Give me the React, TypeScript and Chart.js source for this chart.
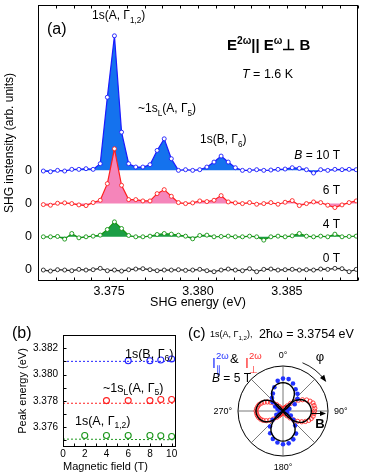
import React, { useEffect, useRef } from 'react';
import { Chart, registerables } from 'chart.js';

Chart.register(...registerables);

const FONT = '"Liberation Sans", Arial, Helvetica, sans-serif';
Chart.defaults.font.family = FONT;
Chart.defaults.color = '#000';

// ---------------- (a) SHG spectra ----------------
const energies = [3.3713, 3.3717, 3.3721, 3.3725, 3.3729, 3.3733, 3.3737, 3.3741, 3.3745, 3.3749, 3.3753, 3.3757, 3.3761, 3.3765, 3.3769, 3.3773, 3.3777, 3.3781, 3.3785, 3.3789, 3.3793, 3.3797, 3.3801, 3.3805, 3.3809, 3.3813, 3.3817, 3.3821, 3.3825, 3.3829, 3.3833, 3.3837, 3.3841, 3.3845, 3.3849, 3.3853, 3.3857, 3.3861, 3.3865, 3.3869, 3.3873, 3.3877, 3.3881, 3.3885, 3.3889];
const energyTicks = [3.371, 3.372, 3.373, 3.374, 3.375, 3.376, 3.377, 3.378, 3.379, 3.38, 3.381, 3.382, 3.383, 3.384, 3.385, 3.386, 3.387, 3.388, 3.389];
const energyTickLabels = [3.375, 3.38, 3.385];
const spectrumOffsets = [0, 1, 2, 3];
const fieldNames = ['0 T', '4 T', '6 T', '10 T'];
const shg0T = [0, -0.03, 0.01, 0, -0.02, 0.02, 0, 0.01, 0.05, -0.02, 0, -0.03, 0.01, 0.03, 0.04, 0.01, -0.02, 0, 0, 0.01, -0.01, 0, 0.02, -0.02, -0.05, 0, 0.03, 0, -0.02, 0.04, -0.05, 0.02, 0.03, 0, 0.01, 0.02, 0, 0.01, 0, 0.03, 0.02, 0.05, 0.04, -0.05, 0.02];
const shg4T = [0, 0, 0.01, -0.07, 0.1, -0.03, 0, 0.02, 0.05, 0.22, 0.45, 0.25, 0.04, 0, 0, 0.02, 0.07, 0.1, 0.08, 0.05, 0.02, -0.06, 0.04, 0.05, 0, 0.01, 0.02, 0, 0, 0.02, 0, -0.1, 0, 0.02, 0, 0.03, 0.1, 0.02, 0, 0.02, 0, 0.08, 0, 0.01, 0.02];
const shg6T = [-0.03, -0.05, 0.01, 0.02, 0, -0.04, -0.06, 0.03, 0.1, 0.6, 1.65, 0.55, 0.12, 0.12, 0.08, 0.08, 0.3, 0.42, 0.22, 0.03, 0, 0.02, 0.08, 0.06, 0.1, 0.24, 0.05, 0.02, 0, 0.03, -0.02, 0, 0.03, -0.02, 0.04, 0.09, -0.06, 0, 0.05, 0.03, -0.05, -0.12, -0.04, 0.03, 0.08];
const shg10T = [-0.02, -0.04, 0, -0.02, 0.03, 0.03, 0.05, 0.03, 0.2, 2.2, 4.05, 1.15, 0.2, 0.1, 0.1, 0.17, 0.6, 0.95, 0.35, 0, 0.02, 0, 0.02, 0.1, 0.25, 0.43, 0.25, 0.08, 0, 0, 0.02, 0, 0.01, 0.03, 0.04, 0.08, 0.06, 0.02, -0.08, 0.02, 0, 0.03, 0.02, 0.03, 0.02];

// ---------------- (b) peak energies ----------------
const fieldA = [2, 4, 6, 8, 9, 10];
const peakA = [3.37537, 3.37537, 3.37537, 3.37537, 3.37535, 3.3753];
const fieldL = [4, 6, 8, 9, 10];
const peakL = [3.37802, 3.37802, 3.37802, 3.3781, 3.3781];
const fieldB = [6, 8, 9, 10];
const peakB = [3.38105, 3.38105, 3.3811, 3.38118];
const guideField = [0, 10.4];
const guideA = [3.3751, 3.37505];
const guideL = [3.37782, 3.37782];
const guideB = [3.381, 3.381];
const fieldTicks = [0, 1, 2, 3, 4, 5, 6, 7, 8, 9, 10];
const fieldTickLabels = [0, 2, 4, 6, 8, 10];
const peakTicks = [3.375, 3.376, 3.377, 3.378, 3.379, 3.38, 3.381, 3.382, 3.383];
const peakTickLabels = [3.376, 3.378, 3.38, 3.382];

// ---------------- (c) polar plot ----------------
const polarAngles = Array.from({ length: 72 }, (_, i) => i * 5);
const polarAxisLabels = ['0°', '90°', '180°', '270°'];
const fitPar = [0.63, 0.627, 0.615, 0.598, 0.572, 0.54, 0.5, 0.44, 0.365, 0.28, 0.19, 0.11, 0.045, 0, 0, 0, 0, 0, 0, 0, 0, 0, 0, 0, 0.048, 0.117, 0.202, 0.298, 0.388, 0.468, 0.532, 0.574, 0.608, 0.636, 0.654, 0.667, 0.67, 0.667, 0.654, 0.636, 0.608, 0.574, 0.532, 0.468, 0.388, 0.298, 0.202, 0.117, 0.048, 0, 0, 0, 0, 0, 0, 0, 0, 0, 0, 0, 0.045, 0.11, 0.19, 0.28, 0.365, 0.44, 0.5, 0.54, 0.572, 0.598, 0.615, 0.627];
const fitPerp = [0, 0, 0, 0, 0, 0, 0.045, 0.11, 0.19, 0.28, 0.365, 0.44, 0.5, 0.54, 0.572, 0.598, 0.615, 0.627, 0.63, 0.627, 0.615, 0.598, 0.572, 0.54, 0.5, 0.44, 0.365, 0.28, 0.19, 0.11, 0.045, 0, 0, 0, 0, 0, 0, 0, 0, 0, 0, 0, 0.043, 0.105, 0.181, 0.267, 0.347, 0.419, 0.476, 0.514, 0.545, 0.569, 0.585, 0.597, 0.6, 0.597, 0.585, 0.569, 0.545, 0.514, 0.476, 0.419, 0.347, 0.267, 0.181, 0.105, 0.043, 0, 0, 0, 0, 0];
const dataPar = [0.72, null, 0.72, null, 0.65, null, 0.56, null, 0.5, null, 0.42, null, 0.3, null, 0.15, null, 0.08, null, null, null, 0.06, null, 0.1, null, 0.2, null, 0.3, null, 0.42, null, 0.58, null, 0.67, null, 0.73, null, 0.74, null, 0.71, null, 0.66, null, 0.57, null, 0.45, null, 0.3, null, 0.17, null, 0.08, null, null, null, 0.04, null, 0.07, null, 0.13, null, 0.2, null, 0.3, null, 0.38, null, 0.45, null, 0.56, null, 0.68, null];
const dataPerp = [null, null, null, null, null, 0.06, 0.08, 0.1, 0.15, 0.24, 0.33, 0.42, 0.5, 0.58, 0.64, 0.69, 0.7, 0.71, 0.7, 0.69, 0.68, 0.65, 0.61, 0.55, 0.48, 0.4, 0.31, 0.22, 0.14, 0.08, 0.05, null, null, null, null, null, null, null, null, null, null, 0.05, 0.07, 0.1, 0.14, 0.2, 0.28, 0.36, 0.43, 0.49, 0.53, 0.56, 0.58, 0.59, 0.6, 0.59, 0.57, 0.55, 0.51, 0.46, 0.4, 0.34, 0.27, 0.2, 0.13, 0.08, 0.05, null, null, null, null, null];

// ---------------- rich text helper ----------------
type Seg = { t: string; m?: 'sub' | 'sup' | 'supk'; b?: boolean; it?: boolean; c?: string; dy?: number };
type Note = { x: number; y: number; size: number; segs: Seg[]; align?: 'left' | 'center' | 'right'; color?: string; bold?: boolean };

function fontStr(size: number, bold?: boolean, it?: boolean) {
  return `${it ? 'italic ' : ''}${bold ? 'bold ' : ''}${size}px ${FONT}`;
}

function drawNote(ctx: CanvasRenderingContext2D, n: Note) {
  const items = n.segs.map((sg) => {
    const sz = n.size * (sg.m ? 0.68 : 1);
    const f = fontStr(sz, sg.b ?? n.bold, sg.it);
    ctx.font = f;
    return { sg, f, w: ctx.measureText(sg.t).width };
  });
  let total = 0;
  let keep = 0;
  for (const it of items) {
    if (it.sg.m === 'supk') keep = it.w;
    else { total += Math.max(it.w, keep); keep = 0; }
  }
  let x = n.align === 'center' ? n.x - total / 2 : n.align === 'right' ? n.x - total : n.x;
  const base = n.y + n.size * 0.36;
  ctx.textBaseline = 'alphabetic';
  ctx.textAlign = 'left';
  keep = 0;
  for (const it of items) {
    ctx.font = it.f;
    ctx.fillStyle = it.sg.c ?? n.color ?? '#000';
    let dy = 0;
    if (it.sg.m === 'sub') dy = n.size * 0.3;
    else if (it.sg.m === 'sup' || it.sg.m === 'supk') dy = -n.size * 0.42;
    if (it.sg.dy !== undefined) dy = it.sg.dy;
    ctx.fillText(it.sg.t, x, base + dy);
    if (it.sg.m === 'supk') keep = it.w;
    else { x += Math.max(it.w, keep); keep = 0; }
  }
}

function notesPlugin(id: string, notes: Note[], extra?: (c: any) => void) {
  return {
    id,
    afterDraw(chart: any) {
      const ctx = chart.ctx;
      ctx.save();
      notes.forEach((n) => drawNote(ctx, n));
      if (extra) extra(chart);
      ctx.restore();
    },
  };
}

function framePlugin(id: string, opts: { xBottom: boolean; xTop: boolean; yLeft: boolean; len: number }) {
  return {
    id,
    afterDraw(chart: any) {
      const { ctx, chartArea: a, scales } = chart;
      ctx.save();
      ctx.strokeStyle = '#000';
      ctx.lineWidth = 1;
      const l = Math.round(a.left) + 0.5, t = Math.round(a.top) + 0.5;
      const r = Math.round(a.right) - 0.5, b = Math.round(a.bottom) - 0.5;
      ctx.strokeRect(l, t, r - l, b - t);
      ctx.beginPath();
      for (const tk of scales.x.ticks) {
        const px = Math.round(scales.x.getPixelForValue(tk.value)) + 0.5;
        if (opts.xBottom) { ctx.moveTo(px, b); ctx.lineTo(px, b - opts.len); }
        if (opts.xTop) { ctx.moveTo(px, t); ctx.lineTo(px, t + opts.len); }
      }
      if (opts.yLeft) {
        for (const tk of scales.y.ticks) {
          const py = Math.round(scales.y.getPixelForValue(tk.value)) + 0.5;
          ctx.moveTo(l, py); ctx.lineTo(l + opts.len, py);
        }
      }
      ctx.stroke();
      ctx.restore();
    },
  };
}

const near = (list: number[], v: number) => list.some((t) => Math.abs(t - v) < 1e-7);
const fixBox = (w: number | null, h: number | null) => (s: any) => {
  if (w !== null) s.width = w;
  if (h !== null) s.height = h;
  s.paddingTop = 0; s.paddingBottom = 0; s.paddingLeft = 0; s.paddingRight = 0;
};

export default function App() {
  const aRef = useRef<HTMLCanvasElement>(null);
  const bRef = useRef<HTMLCanvasElement>(null);
  const cRef = useRef<HTMLCanvasElement>(null);

  useEffect(() => {
    const charts: Chart[] = [];

    // ---------- panel (a) ----------
    const seriesA = [
      { vals: shg0T, off: spectrumOffsets[0], line: '#222222', fill: '', name: fieldNames[0] },
      { vals: shg4T, off: spectrumOffsets[1], line: '#139413', fill: '#1b9e45', name: fieldNames[1] },
      { vals: shg6T, off: spectrumOffsets[2], line: '#ff1f1f', fill: '#f585ba', name: fieldNames[2] },
      { vals: shg10T, off: spectrumOffsets[3], line: '#1a1aff', fill: '#1472ee', name: fieldNames[3] },
    ];
    const notesA: Note[] = [
      { x: 47, y: 28, size: 16, segs: [{ t: '(a)' }] },
      { x: 92, y: 15, size: 12, segs: [{ t: '1s(A, Γ' }, { t: '1,2', m: 'sub' }, { t: ')' }] },
      { x: 138, y: 108, size: 12, segs: [{ t: '~1s' }, { t: 'L', m: 'sub' }, { t: '(A, Γ' }, { t: '5', m: 'sub' }, { t: ')' }] },
      { x: 200, y: 139, size: 12, segs: [{ t: '1s(B, Γ' }, { t: '6', m: 'sub' }, { t: ')' }] },
      { x: 227, y: 45, size: 15, bold: true, segs: [{ t: 'E' }, { t: '2ω', m: 'sup' }, { t: '|| E' }, { t: 'ω', m: 'sup' }, { t: '⊥ B' }] },
      { x: 242, y: 73, size: 12.5, segs: [{ t: 'T', it: true }, { t: ' = 1.6 K' }] },
      { x: 340, y: 155, size: 12, align: 'right', segs: [{ t: 'B', it: true }, { t: ' = 10 T' }] },
      { x: 340, y: 190, size: 12, align: 'right', segs: [{ t: '6 T' }] },
      { x: 340, y: 224, size: 12, align: 'right', segs: [{ t: '4 T' }] },
      { x: 340, y: 258, size: 12, align: 'right', segs: [{ t: '0 T' }] },
    ];
    if (aRef.current) {
      charts.push(new Chart(aRef.current, {
        type: 'line',
        data: {
          datasets: seriesA.map((s) => ({
            label: s.name,
            data: energies.map((e, i) => ({ x: e, y: s.off + s.vals[i] })),
            borderColor: s.line,
            borderWidth: 1.2,
            backgroundColor: s.fill || 'rgba(0,0,0,0)',
            fill: s.fill ? { value: s.off } : false,
            pointRadius: 2,
            pointBorderWidth: 0.9,
            pointBackgroundColor: '#ffffff',
            pointBorderColor: s.line,
            tension: 0,
          })),
        },
        options: {
          responsive: false,
          animation: false,
          devicePixelRatio: 1,
          events: [],
          layout: { padding: { top: 2, right: 16, left: 0, bottom: 0 } },
          plugins: { legend: { display: false }, tooltip: { enabled: false } },
          scales: {
            x: {
              type: 'linear', min: 3.371, max: 3.389,
              afterBuildTicks: (s: any) => { s.ticks = energyTicks.map((v) => ({ value: v })); },
              afterFit: fixBox(null, 29),
              ticks: { autoSkip: false, maxRotation: 0, padding: 3.5, font: { size: 12.5 }, color: '#000',
                callback: (v: any) => (near(energyTickLabels, Number(v)) ? Number(v).toFixed(3) : '') },
              grid: { display: false, drawTicks: false },
              border: { display: false },
              title: { display: true, text: 'SHG energy (eV)', font: { size: 12.5 }, color: '#000', padding: { top: 0, bottom: 0 } },
            },
            y: {
              type: 'linear', min: -0.33, max: 7.98,
              afterBuildTicks: (s: any) => { s.ticks = spectrumOffsets.map((v) => ({ value: v })); },
              afterFit: fixBox(38, null),
              ticks: { padding: 6, font: { size: 12.5 }, color: '#000', callback: () => '0' },
              grid: { display: false, drawTicks: false },
              border: { display: false },
              title: { display: true, text: 'SHG instensity (arb. units)', font: { size: 12 }, color: '#000', padding: { top: 2.3, bottom: 0 } },
            },
          },
        } as any,
        plugins: [framePlugin('frameA', { xBottom: true, xTop: true, yLeft: false, len: 3 }), notesPlugin('notesA', notesA)],
      }));
    }

    // ---------- panel (b) ----------
    const green = '#1a961a', red = '#ff2020', blue = '#2424ff';
    const dots = (xs: number[], ys: number[], c: string) => ({
      data: xs.map((x, i) => ({ x, y: ys[i] })),
      showLine: false, pointRadius: 3, pointBorderWidth: 1.1,
      pointBorderColor: c, pointBackgroundColor: 'rgba(0,0,0,0)', borderColor: c,
    });
    const guide = (ys: number[], c: string) => ({
      data: guideField.map((x, i) => ({ x, y: ys[i] })),
      showLine: true, pointRadius: 0, borderWidth: 1, borderDash: [2, 2], borderColor: c,
    });
    const notesB: Note[] = [
      { x: 12, y: 22, size: 16, segs: [{ t: '(b)' }] },
      { x: 125, y: 43, size: 12.5, segs: [{ t: '1s(B, Γ' }, { t: '6', m: 'sub' }, { t: ')' }] },
      { x: 103, y: 77, size: 12.5, segs: [{ t: '~1s' }, { t: 'L', m: 'sub' }, { t: '(A, Γ' }, { t: '5', m: 'sub' }, { t: ')' }] },
      { x: 75, y: 110, size: 12.5, segs: [{ t: '1s(A, Γ' }, { t: '1,2', m: 'sub' }, { t: ')' }] },
    ];
    if (bRef.current) {
      charts.push(new Chart(bRef.current, {
        type: 'scatter',
        data: {
          datasets: [
            dots(fieldA, peakA, green), dots(fieldL, peakL, red), dots(fieldB, peakB, blue),
            guide(guideA, green), guide(guideL, red), guide(guideB, blue),
          ] as any,
        },
        options: {
          responsive: false,
          animation: false,
          devicePixelRatio: 1,
          events: [],
          layout: { padding: { top: 25, right: 14, left: 0, bottom: 0 } },
          plugins: { legend: { display: false }, tooltip: { enabled: false } },
          scales: {
            x: {
              type: 'linear', min: 0, max: 10.4,
              afterBuildTicks: (s: any) => { s.ticks = fieldTicks.map((v) => ({ value: v })); },
              afterFit: fixBox(null, 29),
              ticks: { autoSkip: false, maxRotation: 0, padding: 1, font: { size: 10 }, color: '#000',
                callback: (v: any) => (near(fieldTickLabels, Number(v)) ? String(v) : '') },
              grid: { display: false, drawTicks: false },
              border: { display: false },
              title: { display: true, text: 'Magnetic field (T)', align: 'start', font: { size: 11 }, color: '#000', padding: { top: 0, bottom: 2.7 } },
            },
            y: {
              type: 'linear', min: 3.3745, max: 3.383,
              afterBuildTicks: (s: any) => { s.ticks = peakTicks.map((v) => ({ value: v })); },
              afterFit: fixBox(63, null),
              ticks: { autoSkip: false, padding: 5, font: { size: 10 }, color: '#000',
                callback: (v: any) => (near(peakTickLabels, Number(v)) ? Number(v).toFixed(3) : '') },
              grid: { display: false, drawTicks: false },
              border: { display: false },
              title: { display: true, text: 'Peak energy (eV)', font: { size: 11 }, color: '#000', padding: { top: 16.4, bottom: 0 } },
            },
          },
        } as any,
        plugins: [framePlugin('frameB', { xBottom: true, xTop: false, yLeft: true, len: 3 }), notesPlugin('notesB', notesB)],
      }));
    }

    // ---------- panel (c) ----------
    const blueC = '#2233ff', redC = '#ff2a2a';
    const notesC: Note[] = [
      { x: 3, y: 23, size: 15, segs: [{ t: '(c)' }] },
      { x: 25, y: 24, size: 9, segs: [{ t: '1s(A, Γ' }, { t: '1,2', m: 'sub' }, { t: '),' }] },
      { x: 74, y: 23, size: 12.5, segs: [{ t: '2ħω = 3.3754 eV' }] },
      { x: 27, y: 53, size: 14, color: blueC, segs: [{ t: 'I' }, { t: '2ω', m: 'supk', dy: -9 }, { t: '∥', m: 'sub', dy: 5 }] },
      { x: 45, y: 48, size: 13, segs: [{ t: '&' }] },
      { x: 60, y: 53, size: 14, color: redC, segs: [{ t: 'I' }, { t: '2ω', m: 'supk', dy: -9 }, { t: '⊥', m: 'sub', dy: 5 }] },
      { x: 27, y: 68, size: 12, segs: [{ t: 'B', it: true }, { t: ' = 5 T' }] },
    ];
    const extraC = (chart: any) => {
      const sc = chart.scales.r;
      const xc = sc.xCenter, yc = sc.yCenter, R = sc.drawingArea;
      const ctx = chart.ctx as CanvasRenderingContext2D;
      drawNote(ctx, { x: xc, y: yc - R - 11, size: 9, align: 'center', segs: [{ t: polarAxisLabels[0] }] });
      drawNote(ctx, { x: xc + R + 6, y: yc, size: 9, align: 'left', segs: [{ t: polarAxisLabels[1] }] });
      drawNote(ctx, { x: xc, y: yc + R + 11, size: 9, align: 'center', segs: [{ t: polarAxisLabels[2] }] });
      drawNote(ctx, { x: xc - R - 6, y: yc, size: 9, align: 'right', segs: [{ t: polarAxisLabels[3] }] });
      // phi arrow
      const rr = R + 7;
      const a0 = (-90 + 22) * Math.PI / 180, a1 = (-90 + 54) * Math.PI / 180;
      ctx.strokeStyle = '#000'; ctx.fillStyle = '#000'; ctx.lineWidth = 0.9;
      ctx.beginPath(); ctx.arc(xc, yc, rr, a0, a1); ctx.stroke();
      const px = xc + rr * Math.cos(a1), py = yc + rr * Math.sin(a1);
      const dx = -Math.sin(a1), dy = Math.cos(a1);
      const nx = Math.cos(a1), ny = Math.sin(a1);
      ctx.beginPath();
      ctx.moveTo(px + dx * 2, py + dy * 2);
      ctx.lineTo(px - dx * 5 + nx * 2.6, py - dy * 5 + ny * 2.6);
      ctx.lineTo(px - dx * 5 - nx * 2.6, py - dy * 5 - ny * 2.6);
      ctx.closePath(); ctx.fill();
      drawNote(ctx, { x: xc + 37, y: yc - 55, size: 13, align: 'center', segs: [{ t: 'φ' }] });
      // B arrow
      ctx.lineWidth = 1;
      ctx.beginPath(); ctx.moveTo(xc + 28, yc + 2.5); ctx.lineTo(xc + 39, yc + 2.5); ctx.stroke();
      ctx.beginPath(); ctx.moveTo(xc + 43, yc + 2.5); ctx.lineTo(xc + 37, yc); ctx.lineTo(xc + 37, yc + 5); ctx.closePath(); ctx.fill();
      drawNote(ctx, { x: xc + 37, y: yc + 12, size: 13, bold: true, align: 'center', segs: [{ t: 'B' }] });
    };
    if (cRef.current) {
      charts.push(new Chart(cRef.current, {
        type: 'radar',
        data: {
          labels: polarAngles.map((a) => String(a)),
          datasets: [
            { data: fitPar, borderColor: '#000', borderWidth: 1.4, pointRadius: 0, fill: false, tension: 0 },
            { data: fitPerp, borderColor: '#000', borderWidth: 1.4, pointRadius: 0, fill: false, tension: 0 },
            { data: dataPar, showLine: false, borderWidth: 0, borderColor: 'rgba(0,0,0,0)', fill: false,
              pointRadius: 2.3, pointBorderWidth: 0, pointBackgroundColor: blueC, pointBorderColor: blueC },
            { data: dataPerp, showLine: false, borderWidth: 0, borderColor: 'rgba(0,0,0,0)', fill: false,
              pointRadius: 2.1, pointBorderWidth: 0.9, pointBackgroundColor: 'rgba(255,255,255,0)', pointBorderColor: redC },
          ] as any,
        },
        options: {
          responsive: false,
          animation: false,
          devicePixelRatio: 1,
          events: [],
          layout: { padding: { top: 56, right: 45.5, left: 53.5, bottom: 20 } },
          plugins: { legend: { display: false }, tooltip: { enabled: false } },
          scales: {
            r: {
              min: 0, max: 1,
              ticks: { display: false, stepSize: 1 },
              grid: { circular: true, color: '#000', lineWidth: 1 },
              angleLines: {
                display: true,
                color: '#555',
                lineWidth: (ctx: any) => (ctx.index % 9 === 0 ? 0.8 : 0),
              },
              pointLabels: { display: false },
            },
          },
        } as any,
        plugins: [notesPlugin('notesC', notesC, extraC)],
      }));
    }

    return () => { charts.forEach((c) => c.destroy()); };
  }, []);

  return (
    <div style={{ position: 'absolute', left: 0, top: 0, width: 374, height: 476, background: '#fff', overflow: 'hidden' }}>
      <canvas ref={aRef} width={374} height={310} style={{ position: 'absolute', left: 0, top: 0, width: 374, height: 310 }} />
      <canvas ref={bRef} width={190} height={166} style={{ position: 'absolute', left: 0, top: 310, width: 190, height: 166 }} />
      <canvas ref={cRef} width={189} height={166} style={{ position: 'absolute', left: 185, top: 310, width: 189, height: 166 }} />
    </div>
  );
}
